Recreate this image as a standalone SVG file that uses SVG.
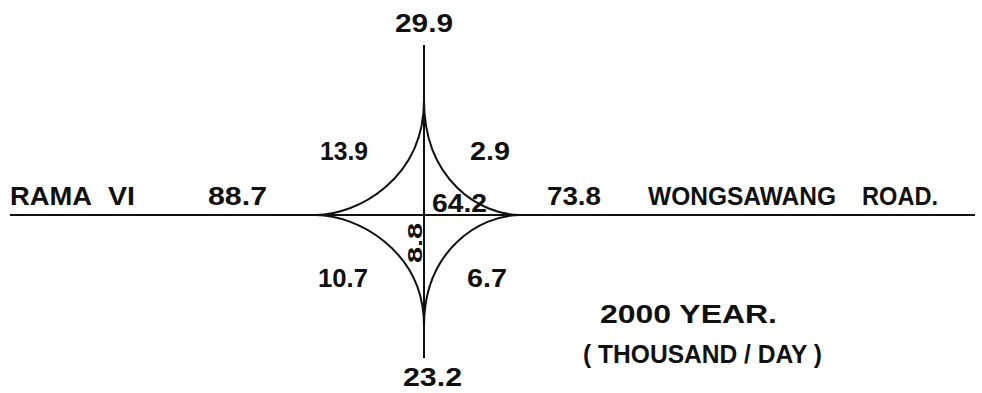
<svg xmlns="http://www.w3.org/2000/svg" width="982" height="393" viewBox="0 0 982 393">
<style>
text{font-family:"Liberation Sans",Arial,sans-serif;font-weight:bold;font-size:25px;fill:#111}
.l{stroke:#111;stroke-width:2;fill:none}
</style>
<rect width="982" height="393" fill="#fff"/>
<g id="connectors">
<line class="l" x1="10" y1="215" x2="975" y2="215"/>
<line class="l" x1="424" y1="45" x2="424" y2="358"/>
<path class="l" d="M316,215 C356,215 424,180 424,100"/>
<path class="l" d="M520,215 C480,215 424,180 424,100"/>
<path class="l" d="M316,215 C356,215 424,250 424,326"/>
<path class="l" d="M520,215 C480,215 424,250 424,326"/>
</g>
<g id="labels">
<text id="n299" x="395" y="32" textLength="58" lengthAdjust="spacingAndGlyphs">29.9</text>
<text id="n139" x="320" y="160" textLength="48" lengthAdjust="spacingAndGlyphs">13.9</text>
<text id="n29" x="470" y="160" textLength="40" lengthAdjust="spacingAndGlyphs">2.9</text>
<text id="n642" x="432" y="212" textLength="55" lengthAdjust="spacingAndGlyphs">64.2</text>
<text id="n738" x="547" y="205" textLength="54" lengthAdjust="spacingAndGlyphs">73.8</text>
<text id="wong" x="648" y="205" textLength="188" lengthAdjust="spacingAndGlyphs">WONGSAWANG</text>
<text id="road" x="862" y="205" textLength="76" lengthAdjust="spacingAndGlyphs">ROAD.</text>
<text id="rama" x="10" y="205" textLength="82" lengthAdjust="spacingAndGlyphs">RAMA</text>
<text id="vi" x="108" y="205" textLength="27" lengthAdjust="spacingAndGlyphs">VI</text>
<text id="n887" x="208" y="205" textLength="59" lengthAdjust="spacingAndGlyphs">88.7</text>
<text id="n88" transform="translate(422,263) rotate(-90)" textLength="40" lengthAdjust="spacingAndGlyphs" style="font-size:20px">8.8</text>
<text id="n107" x="318" y="287" textLength="50" lengthAdjust="spacingAndGlyphs">10.7</text>
<text id="n67" x="467" y="287" textLength="40" lengthAdjust="spacingAndGlyphs">6.7</text>
<text id="n232" x="403" y="386" textLength="59" lengthAdjust="spacingAndGlyphs">23.2</text>
<text id="year" x="600" y="323" textLength="177" lengthAdjust="spacingAndGlyphs">2000  YEAR.</text>
<text id="unit" x="583" y="363" textLength="239" lengthAdjust="spacingAndGlyphs">( THOUSAND / DAY )</text>
</g>
</svg>
